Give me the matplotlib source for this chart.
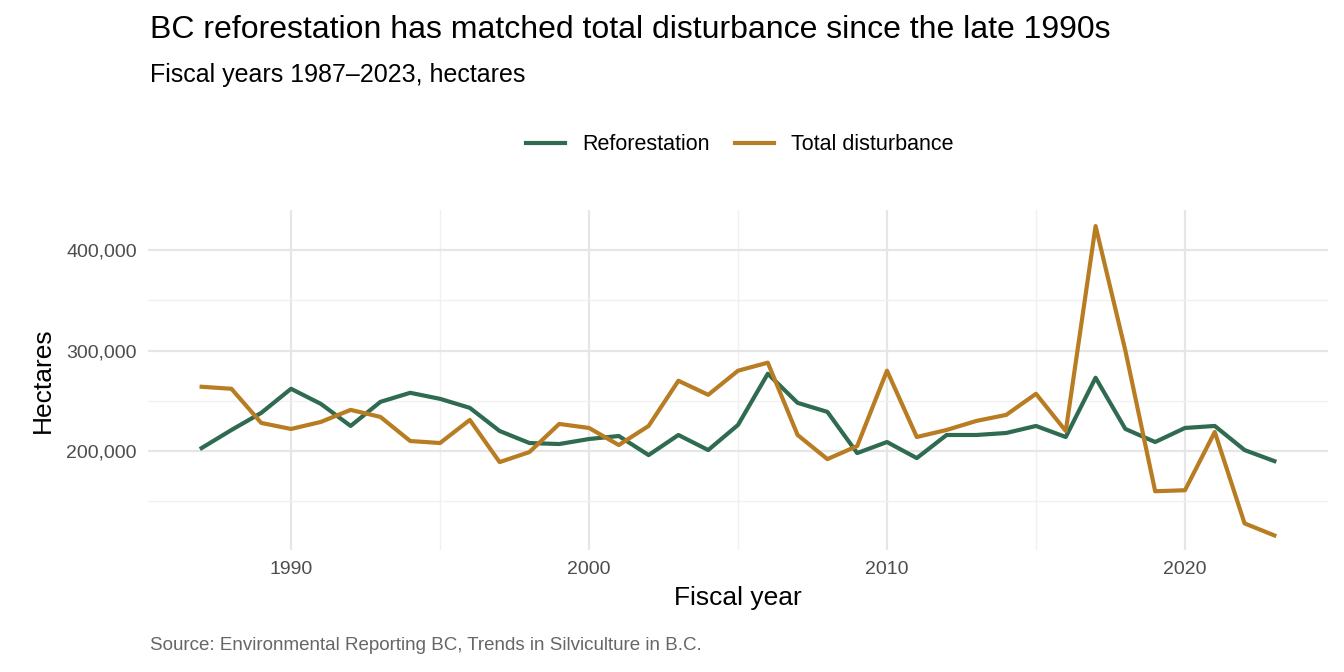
import matplotlib
matplotlib.use("Agg")
import matplotlib.pyplot as plt
from matplotlib.ticker import FuncFormatter

plt.rcParams['font.family'] = ['Liberation Sans', 'DejaVu Sans']

years = list(range(1987, 2024))
reforestation = [203,221,238,262,247,225,249,258,252,243,220,208,207,212,215,196,216,201,226,277,
                 248,239,198,209,193,216,216,218,225,214,273,222,209,223,225,201,190]
disturbance = [264,262,228,222,229,241,234,210,208,231,189,199,227,223,206,225,270,256,280,288,
               216,192,205,280,214,221,230,236,257,220,424,300,160,161,219,128,116]
reforestation = [v*1000 for v in reforestation]
disturbance = [v*1000 for v in disturbance]

fig = plt.figure(figsize=(13.44, 6.72), dpi=100)
ax = fig.add_axes([148/1344, 1-550/672, (1328-148)/1344, 340/672])
ax.plot(years, reforestation, color="#2e6b50", lw=3, label="Reforestation")
ax.plot(years, disturbance, color="#b87d22", lw=3, label="Total disturbance")
ax.set_xlim(1985.2, 2024.8)
ax.set_ylim(101500, 440000)
ax.set_xticks([1990, 2000, 2010, 2020])
ax.set_xticks([1995, 2005, 2015], minor=True)
ax.set_yticks([200000, 300000, 400000])
ax.set_yticks([150000, 250000, 350000], minor=True)
ax.yaxis.set_major_formatter(FuncFormatter(lambda v, p: f"{int(v):,}"))
ax.grid(which="major", color="#e6e6e6", lw=1.6)
ax.grid(which="minor", color="#f0f0f0", lw=1)
ax.set_axisbelow(True)
for s in ax.spines.values():
    s.set_visible(False)
ax.tick_params(which="both", length=0, labelsize=14, labelcolor="#4d4d4d", pad=8)
ax.set_xlabel("Fiscal year", fontsize=19, labelpad=6)
ax.set_ylabel("Hectares", fontsize=19, labelpad=8)
fig.text(150/1344, 1-30/672, "BC reforestation has matched total disturbance since the late 1990s",
         fontsize=23, va="center")
fig.text(150/1344, 1-75/672, "Fiscal years 1987–2023, hectares", fontsize=18, va="center")
fig.text(150/1344, 1-646/672, "Source: Environmental Reporting BC, Trends in Silviculture in B.C.",
         fontsize=13.5, color="#666666", va="center")
fig.legend(loc="center", bbox_to_anchor=(740/1344, 1-145/672), ncol=2, frameon=False,
           fontsize=15.5, handlelength=1.8, columnspacing=1.2)
fig.savefig("out.png", dpi=100)
